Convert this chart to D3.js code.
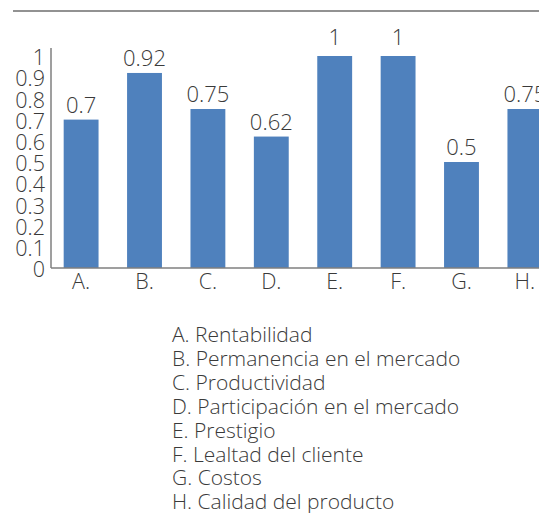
<!DOCTYPE html>
<html>
<head>
<meta charset="utf-8">
<script src="https://cdn.jsdelivr.net/npm/d3@7"></script>
<style>
  body { margin: 0; background: #fff; }
  svg { display: block; font-family: "Open Sans", sans-serif; font-weight: 300; }
  .axis .domain { stroke: #7f7f7f; stroke-width: 1.5; }
  .axis text { fill: #3a3a3a; font-size: 21.5px; font-family: "Open Sans", sans-serif; font-weight: 300; }
  .value-label { fill: #3a3a3a; font-size: 22px; }
  .legend text { fill: #3a3a3a; font-size: 21px; }
</style>
</head>
<body>
<svg id="chart" width="539" height="513"></svg>
<script>
"use strict";

// chart values
var categories = ['A.', 'B.', 'C.', 'D.', 'E.', 'F.', 'G.', 'H.'];
var values = [0.7, 0.92, 0.75, 0.62, 1, 1, 0.5, 0.75];
var valueLabels = ['0.7', '0.92', '0.75', '0.62', '1', '1', '0.5', '0.75'];
var yTicks = [0, 0.1, 0.2, 0.3, 0.4, 0.5, 0.6, 0.7, 0.8, 0.9, 1];
var legendNames = [
	'A. Rentabilidad',
	'B. Permanencia en el mercado',
	'C. Productividad',
	'D. Participación en el mercado',
	'E. Prestigio',
	'F. Lealtad del cliente',
	'G. Costos',
	'H. Calidad del producto'
];

var svg = d3.select('#chart');
var sizes = {
	left: 51,
	right: 555,
	top: 56,
	bottom: 268
};

// top rule
svg.append('line')
	.attr('x1', 13).attr('x2', 539)
	.attr('y1', 11).attr('y2', 11)
	.attr('stroke', '#6e6e6e')
	.attr('stroke-width', 1.5);

var x = d3.scaleBand()
	.domain(categories)
	.range([sizes.left, sizes.right])
	.paddingInner(0.45)
	.paddingOuter(0.2);

var y = d3.scaleLinear()
	.domain([0, 1])
	.range([sizes.bottom, sizes.top]);

// bars
svg.append('g').selectAll('rect')
	.data(values)
	.enter()
	.append('rect')
	.attr('x', (d, i) => x(categories[i]))
	.attr('y', (d) => y(d))
	.attr('width', x.bandwidth())
	.attr('height', (d) => y(0) - y(d))
	.attr('fill', '#4f81bd');

// value labels over bars
svg.append('g').selectAll('text')
	.data(values)
	.enter()
	.append('text')
	.attr('class', 'value-label')
	.attr('x', (d, i) => x(categories[i]) + x.bandwidth() / 2)
	.attr('y', (d) => y(d) - 7 - (d >= 1 ? 4 : 0))
	.attr('text-anchor', 'middle')
	.text((d, i) => valueLabels[i]);

// y axis (no tick marks)
var yAxis = d3.axisLeft(y)
	.tickValues(yTicks)
	.tickFormat((d) => String(+d.toFixed(1)))
	.tickSize(0)
	.tickPadding(6);
var yaxisG = svg.append('g')
	.attr('class', 'axis axis-y')
	.attr('transform', 'translate(' + sizes.left + ',0)')
	.call(yAxis);
yaxisG.select('.domain').attr('d', 'M0,' + (sizes.top - 8) + 'V' + sizes.bottom);
yaxisG.selectAll('text').attr('dy', '0.4em');

// x axis
var xAxis = d3.axisBottom(x)
	.tickSize(0)
	.tickPadding(6);
var xaxisG = svg.append('g')
	.attr('class', 'axis axis-x')
	.attr('transform', 'translate(0,' + sizes.bottom + ')')
	.call(xAxis);
xaxisG.select('.domain').attr('d', 'M' + sizes.left + ',0H539');

// legend of category names
svg.append('g')
	.attr('class', 'legend')
	.selectAll('text')
	.data(legendNames)
	.enter()
	.append('text')
	.attr('x', 172)
	.attr('y', (d, i) => 342 + i * 23.9)
	.text((d) => d);
</script>
</body>
</html>
